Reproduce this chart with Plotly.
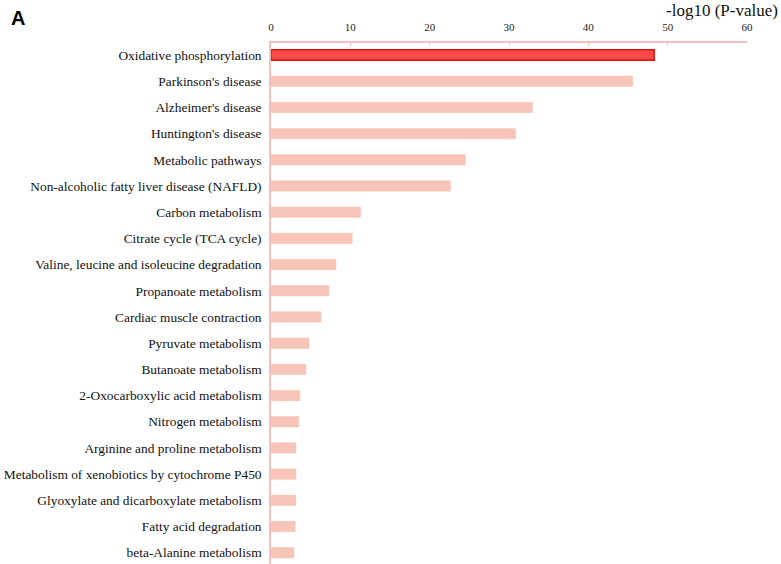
import plotly.graph_objects as go

pathways = [
    "Oxidative phosphorylation",
    "Parkinson's disease",
    "Alzheimer's disease",
    "Huntington's disease",
    "Metabolic pathways",
    "Non-alcoholic fatty liver disease (NAFLD)",
    "Carbon metabolism",
    "Citrate cycle (TCA cycle)",
    "Valine, leucine and isoleucine degradation",
    "Propanoate metabolism",
    "Cardiac muscle contraction",
    "Pyruvate metabolism",
    "Butanoate metabolism",
    "2-Oxocarboxylic acid metabolism",
    "Nitrogen metabolism",
    "Arginine and proline metabolism",
    "Metabolism of xenobiotics by cytochrome P450",
    "Glyoxylate and dicarboxylate metabolism",
    "Fatty acid degradation",
    "beta-Alanine metabolism",
]
neg_log10_p = [48.3, 45.6, 32.95, 30.85, 24.5, 22.6, 11.3, 10.25, 8.2, 7.3,
               6.3, 4.8, 4.4, 3.65, 3.5, 3.15, 3.15, 3.15, 3.05, 2.9]
x_ticks = [0, 10, 20, 30, 40, 50, 60]

highlight_fill = "#ff4a4a"
highlight_line = "#e01010"
normal_fill = "#f6c5b8"
axis_color = "#f3c0bb"

fills = [highlight_fill] + [normal_fill] * (len(pathways) - 1)
lines = [highlight_line] + [normal_fill] * (len(pathways) - 1)
widths = [1.5] + [0.5] * (len(pathways) - 1)

fig = go.Figure(go.Bar(
    x=neg_log10_p,
    y=pathways,
    orientation="h",
    marker=dict(color=fills, line=dict(color=lines, width=widths)),
    width=0.4,
))

serif = "Liberation Serif, Times New Roman, serif"

fig.update_layout(
    width=781, height=564,
    margin=dict(l=271, r=34, t=43, b=0),
    plot_bgcolor="white", paper_bgcolor="white",
    showlegend=False,
    font=dict(family=serif, color="#111111", size=13),
    xaxis=dict(
        side="top", range=[0, 60], tickvals=x_ticks,
        ticks="inside", ticklen=3, tickcolor=axis_color,
        showline=True, linecolor=axis_color, linewidth=1.5,
        showgrid=False, zeroline=False,
        tickfont=dict(size=11, family=serif, color="#222222"),
        ticklabelstandoff=6,
    ),
    yaxis=dict(
        type="category", range=[19.43, -0.46],
        ticks="", showline=True, linecolor=axis_color, linewidth=1.5,
        showgrid=False, zeroline=False,
        tickfont=dict(size=13.4, family=serif, color="#111111"),
        ticklabelstandoff=5,
    ),
    annotations=[
        dict(text="-log10 (P-value)", xref="paper", yref="paper",
             x=1.0, xanchor="right", y=1.0, yanchor="bottom", yshift=21,
             xshift=33, showarrow=False,
             font=dict(size=17, family=serif, color="#111111")),
        dict(text="<b>A</b>", xref="paper", yref="paper",
             x=0, y=1.0, xanchor="left", yanchor="middle",
             xshift=-262, yshift=25, showarrow=False,
             font=dict(size=20, family="Liberation Sans, Arial, sans-serif",
                       color="#000000")),
    ],
)

fig.write_html("out.html")
